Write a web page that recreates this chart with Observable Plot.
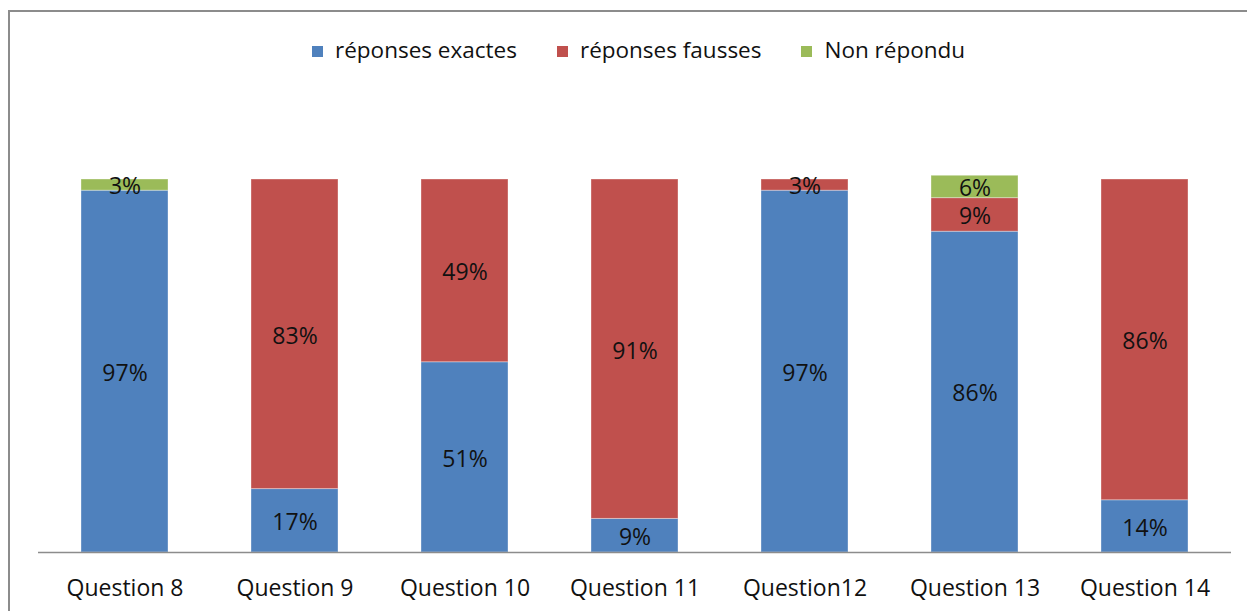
<!DOCTYPE html>
<html>
<head>
<meta charset="utf-8">
<script src="https://cdn.jsdelivr.net/npm/d3@7"></script>
<script src="https://cdn.jsdelivr.net/npm/@observablehq/plot@0.6"></script>
<style>
  html, body { margin: 0; padding: 0; background: #fff; }
  #wrap { position: relative; width: 1247px; height: 611px; overflow: hidden; font-family: "Open Sans", sans-serif; }
  #frame { position: absolute; left: 8px; top: 10px; width: 1300px; height: 700px; border-top: 2px solid #8c8c8c; border-left: 2px solid #8c8c8c; box-sizing: border-box; }
  #legend { position: absolute; left: 312px; top: 34px; display: flex; justify-content: flex-start; align-items: center; font-size: 22.5px; color: #111; }
  .item { display: flex; align-items: center; margin-right: 40px; }
  .sw { width: 11px; height: 11px; margin-right: 12px; margin-top: 3px; }
  #chart { position: absolute; left: 0; top: 0; }
</style>
</head>
<body>
<div id="wrap">
  <div id="frame"></div>
  <div id="legend"></div>
  <div id="chart"></div>
</div>
<script>
const questions = ["Question 8", "Question 9", "Question 10", "Question 11", "Question12", "Question 13", "Question 14"];
const exactes = [97, 17, 51, 9, 97, 86, 14];
const fausses = [0, 83, 49, 91, 3, 9, 86];
const nonRepondu = [3, 0, 0, 0, 0, 6, 0];
const seriesNames = ["réponses exactes", "réponses fausses", "Non répondu"];
const seriesColors = ["#4F81BD", "#C0504D", "#9BBB59"];

const seriesValues = [exactes, fausses, nonRepondu];
const rows = [];
seriesNames.forEach((s, si) => {
  questions.forEach((q, qi) => {
    rows.push({question: q, series: s, value: seriesValues[si][qi]});
  });
});

const legend = document.getElementById("legend");
seriesNames.forEach((s, i) => {
  const it = document.createElement("div");
  it.className = "item";
  const sw = document.createElement("span");
  sw.className = "sw";
  sw.style.background = seriesColors[i];
  const tx = document.createElement("span");
  tx.textContent = s;
  it.appendChild(sw); it.appendChild(tx);
  legend.appendChild(it);
});

const chart = Plot.plot({
  width: 1247,
  height: 611,
  marginLeft: 38,
  marginRight: 16,
  marginTop: 179,
  marginBottom: 59,
  style: {fontFamily: "Open Sans, sans-serif", fontSize: "23px", background: "transparent", color: "#111"},
  x: {type: "band", domain: questions, paddingInner: 0.49, paddingOuter: 0.246, label: null},
  y: {domain: [0, 100], axis: null},
  color: {domain: seriesNames, range: seriesColors},
  marks: [
    Plot.barY(rows, Plot.stackY({x: "question", y: "value", fill: "series", stroke: "#ffffff", strokeOpacity: 0.35, strokeWidth: 1})),
    Plot.text(rows.filter(d => d.value > 0), Plot.stackY({x: "question", y: "value", z: "series", text: d => d.value + "%", fill: "#111", fontSize: 23, dy: 2})),
    Plot.ruleY([0], {stroke: "#8c8c8c", strokeWidth: 1.5}),
    Plot.axisX({tickSize: 0, tickPadding: 27, fontSize: 23, fill: "#111", label: null})
  ]
});
document.getElementById("chart").appendChild(chart);
</script>
</body>
</html>
